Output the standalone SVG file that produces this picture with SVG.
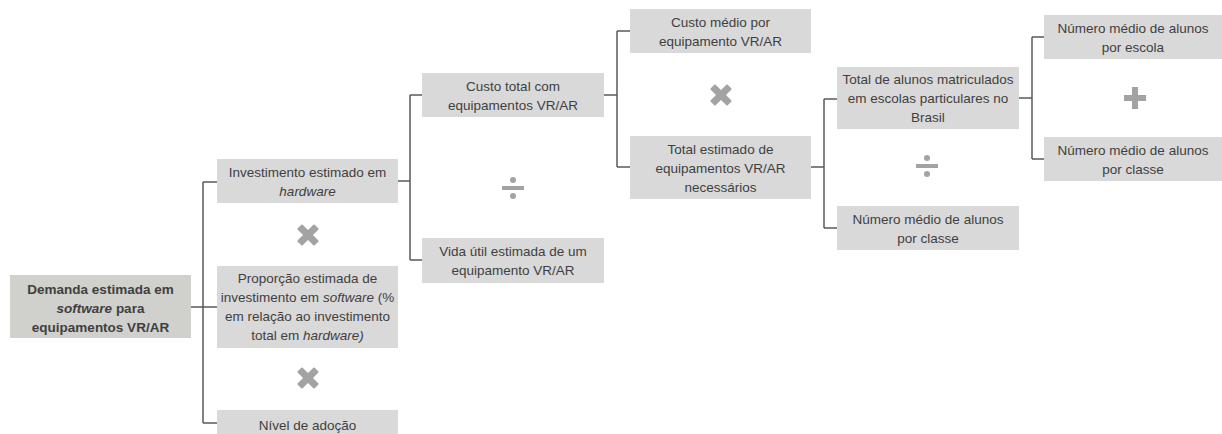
<svg xmlns="http://www.w3.org/2000/svg" width="1222" height="434" viewBox="0 0 1222 434">
<defs>
<style>
.box{fill:#d9d9d9}
.rootbox{fill:#d0d0cc}
text{font-family:"Liberation Sans",Arial,sans-serif;font-size:13.5px;fill:#3f3f3f;text-anchor:middle}
.b{font-weight:bold}
.conn{fill:none;stroke:#595959;stroke-width:1.5}
.op{fill:#a3a3a3}
</style>
<g id="times"><rect x="-12" y="-3.5" width="24" height="7" rx="1"/><rect x="-3.5" y="-12" width="7" height="24" rx="1"/></g>
<g id="plus"><rect x="-11" y="-3" width="22" height="6"/><rect x="-3" y="-11" width="6" height="22"/></g>
<g id="divide"><rect x="-11" y="-2" width="22" height="4"/><circle cx="0" cy="-8" r="3"/><circle cx="0" cy="8" r="3"/></g>
</defs>
<rect width="1222" height="434" fill="#ffffff"/>
<g id="connectors" class="conn">
<path d="M191 307H203M203 182V423M203 182H217M203 307H217M203 423H217"/>
<path d="M398 181H410M410 95V260M410 95H422M410 260H422"/>
<path d="M604 95H617M617 31V167M617 31H630M617 167H630"/>
<path d="M811 167H824M824 99V228M824 99H837M824 228H837"/>
<path d="M1019 98H1032M1032 37V159M1032 37H1044M1032 159H1044"/>
</g>
<g id="operators" class="op">
<use href="#times" transform="translate(308,235) rotate(45)"/>
<use href="#times" transform="translate(308,378) rotate(45)"/>
<use href="#times" transform="translate(721,95) rotate(45)"/>
<use href="#divide" transform="translate(513,188)"/>
<use href="#divide" transform="translate(927,166)"/>
<use href="#plus" transform="translate(1135,98)"/>
</g>
<g id="n-root">
<rect class="rootbox" x="10" y="275" width="181" height="63"/>
<text class="b" x="100.5" y="293.5">Demanda estimada em</text>
<text class="b" x="100.5" y="312.5"><tspan font-style="italic">software</tspan> para</text>
<text class="b" x="100.5" y="331.5">equipamentos VR/AR</text>
</g>
<g id="n-hardware">
<rect class="box" x="217" y="159" width="181" height="44"/>
<text x="307.5" y="176.5">Investimento estimado em</text>
<text x="307.5" y="195.5" font-style="italic">hardware</text>
</g>
<g id="n-proporcao">
<rect class="box" x="217" y="266" width="181" height="82"/>
<text x="307.5" y="283">Proporção estimada de</text>
<text x="307.5" y="302">investimento em <tspan font-style="italic">software</tspan> (%</text>
<text x="307.5" y="321">em relação ao investimento</text>
<text x="307.5" y="340">total em <tspan font-style="italic">hardware)</tspan></text>
</g>
<g id="n-adocao">
<rect class="box" x="217" y="410" width="181" height="40"/>
<text x="307.5" y="430">Nível de adoção</text>
</g>
<g id="n-custototal">
<rect class="box" x="422" y="73" width="182" height="44"/>
<text x="513" y="90.5">Custo total com</text>
<text x="513" y="109.5">equipamentos VR/AR</text>
</g>
<g id="n-vidautil">
<rect class="box" x="422" y="238" width="182" height="45"/>
<text x="513" y="256">Vida útil estimada de um</text>
<text x="513" y="275">equipamento VR/AR</text>
</g>
<g id="n-customedio">
<rect class="box" x="630" y="9" width="181" height="44"/>
<text x="720.5" y="26.5">Custo médio por</text>
<text x="720.5" y="45.5">equipamento VR/AR</text>
</g>
<g id="n-totalequip">
<rect class="box" x="630" y="136" width="181" height="63"/>
<text x="720.5" y="153.5">Total estimado de</text>
<text x="720.5" y="172.5">equipamentos VR/AR</text>
<text x="720.5" y="191.5">necessários</text>
</g>
<g id="n-totalalunos">
<rect class="box" x="837" y="67" width="182" height="62"/>
<text x="928" y="84">Total de alunos matriculados</text>
<text x="928" y="103">em escolas particulares no</text>
<text x="928" y="122">Brasil</text>
</g>
<g id="n-alunosclasse1">
<rect class="box" x="837" y="206" width="182" height="44"/>
<text x="928" y="223.5">Número médio de alunos</text>
<text x="928" y="242.5">por classe</text>
</g>
<g id="n-alunosescola">
<rect class="box" x="1044" y="15" width="178" height="44"/>
<text x="1133" y="32.5">Número médio de alunos</text>
<text x="1133" y="51.5">por escola</text>
</g>
<g id="n-alunosclasse2">
<rect class="box" x="1044" y="137" width="178" height="44"/>
<text x="1133" y="154.5">Número médio de alunos</text>
<text x="1133" y="173.5">por classe</text>
</g>
</svg>
